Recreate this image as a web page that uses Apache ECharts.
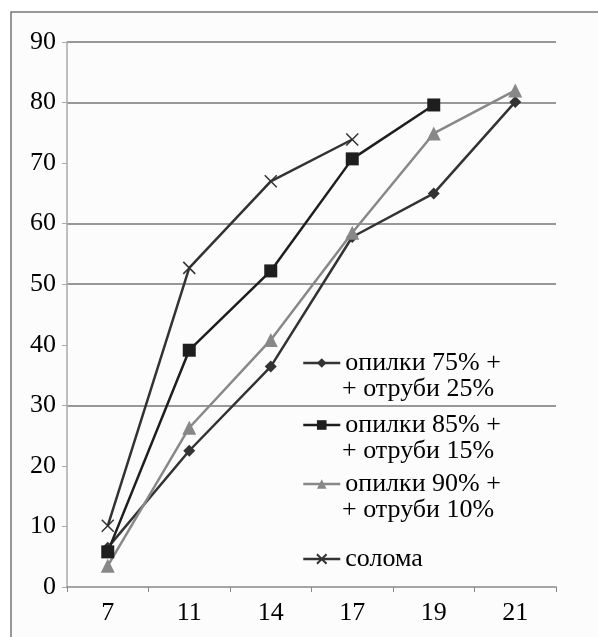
<!DOCTYPE html>
<html><head><meta charset="utf-8">
<script src="https://cdn.jsdelivr.net/npm/echarts@6/dist/echarts.min.js"></script>
<style>html,body{margin:0;padding:0;background:#fff}#c{width:598px;height:637px}</style>
</head><body><div id="c"></div>
<script>
const categories = ['7', '11', '14', '17', '19', '21'];
const yTicks = [0, 10, 20, 30, 40, 50, 60, 70, 80, 90];
const opilki75 = [6.5, 22.5, 36.4, 57.8, 65.0, 80.1];
const opilki85 = [5.8, 39.1, 52.2, 70.7, 79.6, null];
const opilki90 = [3.5, 26.3, 40.8, 58.5, 74.9, 82.0];
const soloma = [10.1, 52.7, 67.0, 73.9, null, null];
const names = ['опилки 75% +', 'опилки 85% +', 'опилки 90% +', 'солома'];
const secondLines = ['+ отруби 25%', '+ отруби 15%', '+ отруби 10%'];

const font = 'Liberation Serif';
const chart = echarts.init(document.getElementById('c'), null, {renderer: 'canvas'});
const crossPath = 'path://M0,0L10,10M10,0L0,10';

function ser(name, data, symbol, size, color, extra) {
  return Object.assign({
    name, type: 'line', data, symbol, symbolSize: size,
    showAllSymbol: true, connectNulls: false,
    lineStyle: {color, width: 2.5},
    itemStyle: {color, borderColor: color, borderWidth: 0},
    animation: false
  }, extra || {});
}

const legendTops = [363, 425, 484, 559];
const legends = names.map((n, i) => ({
  data: [n], left: 302, top: legendTops[i] - 13, padding: 0,
  itemWidth: 37, itemHeight: 12, itemGap: 0, itemTextGap: 2,
  lineStyle: {width: 2.5},
  textStyle: {fontFamily: font, fontSize: 26, color: '#000', lineHeight: 26},
  selectedMode: false
}));

const option = {
  backgroundColor: '#fff',
  animation: false,
  graphic: [
    {type: 'rect', z: -10, silent: true, shape: {x: 11, y: 12, width: 620, height: 660},
     style: {fill: '#fcfcfc', stroke: '#777', lineWidth: 1.5}}
  ].concat(secondLines.map((t, i) => ({
    type: 'text', left: 342, top: legendTops[i] + 13, z: 10,
    style: {text: t, font: '26px "Liberation Serif"', fill: '#000'}
  }))),
  legend: legends,
  grid: {left: 67, right: 42, top: 42, bottom: 50, containLabel: false},
  xAxis: {
    type: 'category', data: categories, boundaryGap: true,
    axisLine: {lineStyle: {color: '#888', width: 1.5}},
    axisTick: {show: true, length: 5, lineStyle: {color: '#888'}},
    axisLabel: {fontFamily: font, fontSize: 26, color: '#000', margin: 13}
  },
  yAxis: {
    type: 'value', min: 0, max: 90, interval: 10,
    axisLine: {show: true, lineStyle: {color: '#aaa', width: 1.5}},
    axisTick: {show: true, length: 5, lineStyle: {color: '#aaa'}},
    axisLabel: {fontFamily: font, fontSize: 26, color: '#000', margin: 11},
    splitLine: {show: true, lineStyle: {width: 1.5,
      color: ['transparent', 'transparent', 'transparent', '#777', 'transparent', '#777', '#777', 'transparent', '#777', '#777']}}
  },
  series: [
    ser(names[0], opilki75, 'diamond', 12, '#333'),
    ser(names[1], opilki85, 'rect', 13, '#1e1e1e'),
    ser(names[2], opilki90, 'triangle', 14, '#888'),
    ser(names[3], soloma, crossPath, 12, '#333', {itemStyle: {color: 'none', borderColor: '#333', borderWidth: 1.5}})
  ]
};
chart.setOption(option);
</script></body></html>
